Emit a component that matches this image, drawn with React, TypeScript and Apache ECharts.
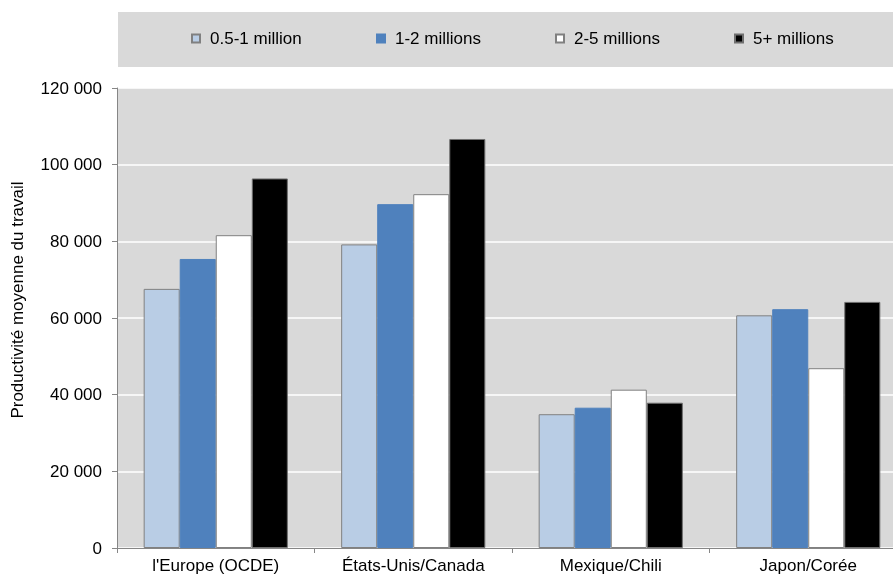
import React, { useEffect, useRef } from "react";
import * as echarts from "echarts";

const categories = ["l'Europe (OCDE)", "États-Unis/Canada", "Mexique/Chili", "Japon/Corée"];
const seriesNames = ["0.5-1 million", "1-2 millions", "2-5 millions", "5+ millions"];
const s05to1 = [67600, 79200, 34900, 60700];
const s1to2 = [75400, 89700, 36600, 62300];
const s2to5 = [81600, 92300, 41300, 46900];
const s5plus = [96400, 106700, 37900, 64200];
const yTicks = [0, 20000, 40000, 60000, 80000, 100000, 120000];

const colors = ["#B9CDE5", "#4F81BD", "#FFFFFF", "#000000"];
const borders = ["#808080", "#4F81BD", "#808080", "#6f6f6f"];
const legendLeft = [191, 376, 555, 734];

const fmt = (v: number) => (v === 0 ? "0" : `${Math.floor(v / 1000)} ${String(v % 1000).padStart(3, "0")}`);

export default function App() {
  const ref = useRef<HTMLDivElement>(null);
  useEffect(() => {
    if (!ref.current) return;
    const chart = echarts.init(ref.current, undefined, { renderer: "svg" });
    const data = [s05to1, s1to2, s2to5, s5plus];
    const font = "Liberation Sans, Arial, sans-serif";
    const fs = 17;
    chart.setOption({
      animation: false,
      textStyle: { fontFamily: font },
      graphic: [
        { type: "rect", shape: { x: 118, y: 12, width: 775, height: 55 }, style: { fill: "#D9D9D9" }, z: -10 },
        {
          type: "text",
          x: 17,
          y: 300,
          rotation: Math.PI / 2,
          style: { text: "Productivité moyenne du travail", font: `${fs}px ${font}`, fill: "#000", align: "center", verticalAlign: "middle" },
        },
      ],
      legend: seriesNames.map((n, i) => ({
        data: [n],
        left: legendLeft[i],
        top: 30,
        padding: 0,
        itemWidth: 8,
        itemHeight: 8,
        icon: "rect",
        textStyle: { fontSize: fs, color: "#000", fontFamily: font, padding: [0, 0, 0, 5] },
      })),
      grid: {
        left: 117,
        top: 88,
        width: 790,
        bottom: 29,
        backgroundColor: "#D9D9D9",
        show: true,
        borderWidth: 0,
        outerBoundsMode: "none",
        containLabel: false,
      },
      xAxis: {
        type: "category",
        data: categories,
        axisLine: { lineStyle: { color: "#868686" } },
        axisTick: { show: true, length: 5, lineStyle: { color: "#868686" } },
        axisLabel: { fontSize: fs, color: "#000", margin: 9, fontFamily: font },
      },
      yAxis: {
        type: "value",
        min: 0,
        max: 120000,
        interval: 20000,
        axisLine: { show: true, lineStyle: { color: "#868686" } },
        axisTick: { show: true, length: 5, lineStyle: { color: "#868686" } },
        splitLine: { lineStyle: { color: "#FFFFFF", width: 1.5 } },
        axisLabel: {
          fontSize: fs,
          color: "#000",
          margin: 15,
          fontFamily: font,
          formatter: (v: number) => (yTicks.includes(v) ? fmt(v) : ""),
        },
      },
      series: seriesNames.map((n, i) => ({
        name: n,
        type: "bar",
        data: data[i],
        barGap: "0%",
        barCategoryGap: "27%",
        itemStyle: { color: colors[i], borderColor: borders[i], borderWidth: 1 },
      })),
    });
    return () => chart.dispose();
  }, []);
  return <div ref={ref} style={{ position: "fixed", left: 0, top: 0, width: 893, height: 577 }} />;
}
